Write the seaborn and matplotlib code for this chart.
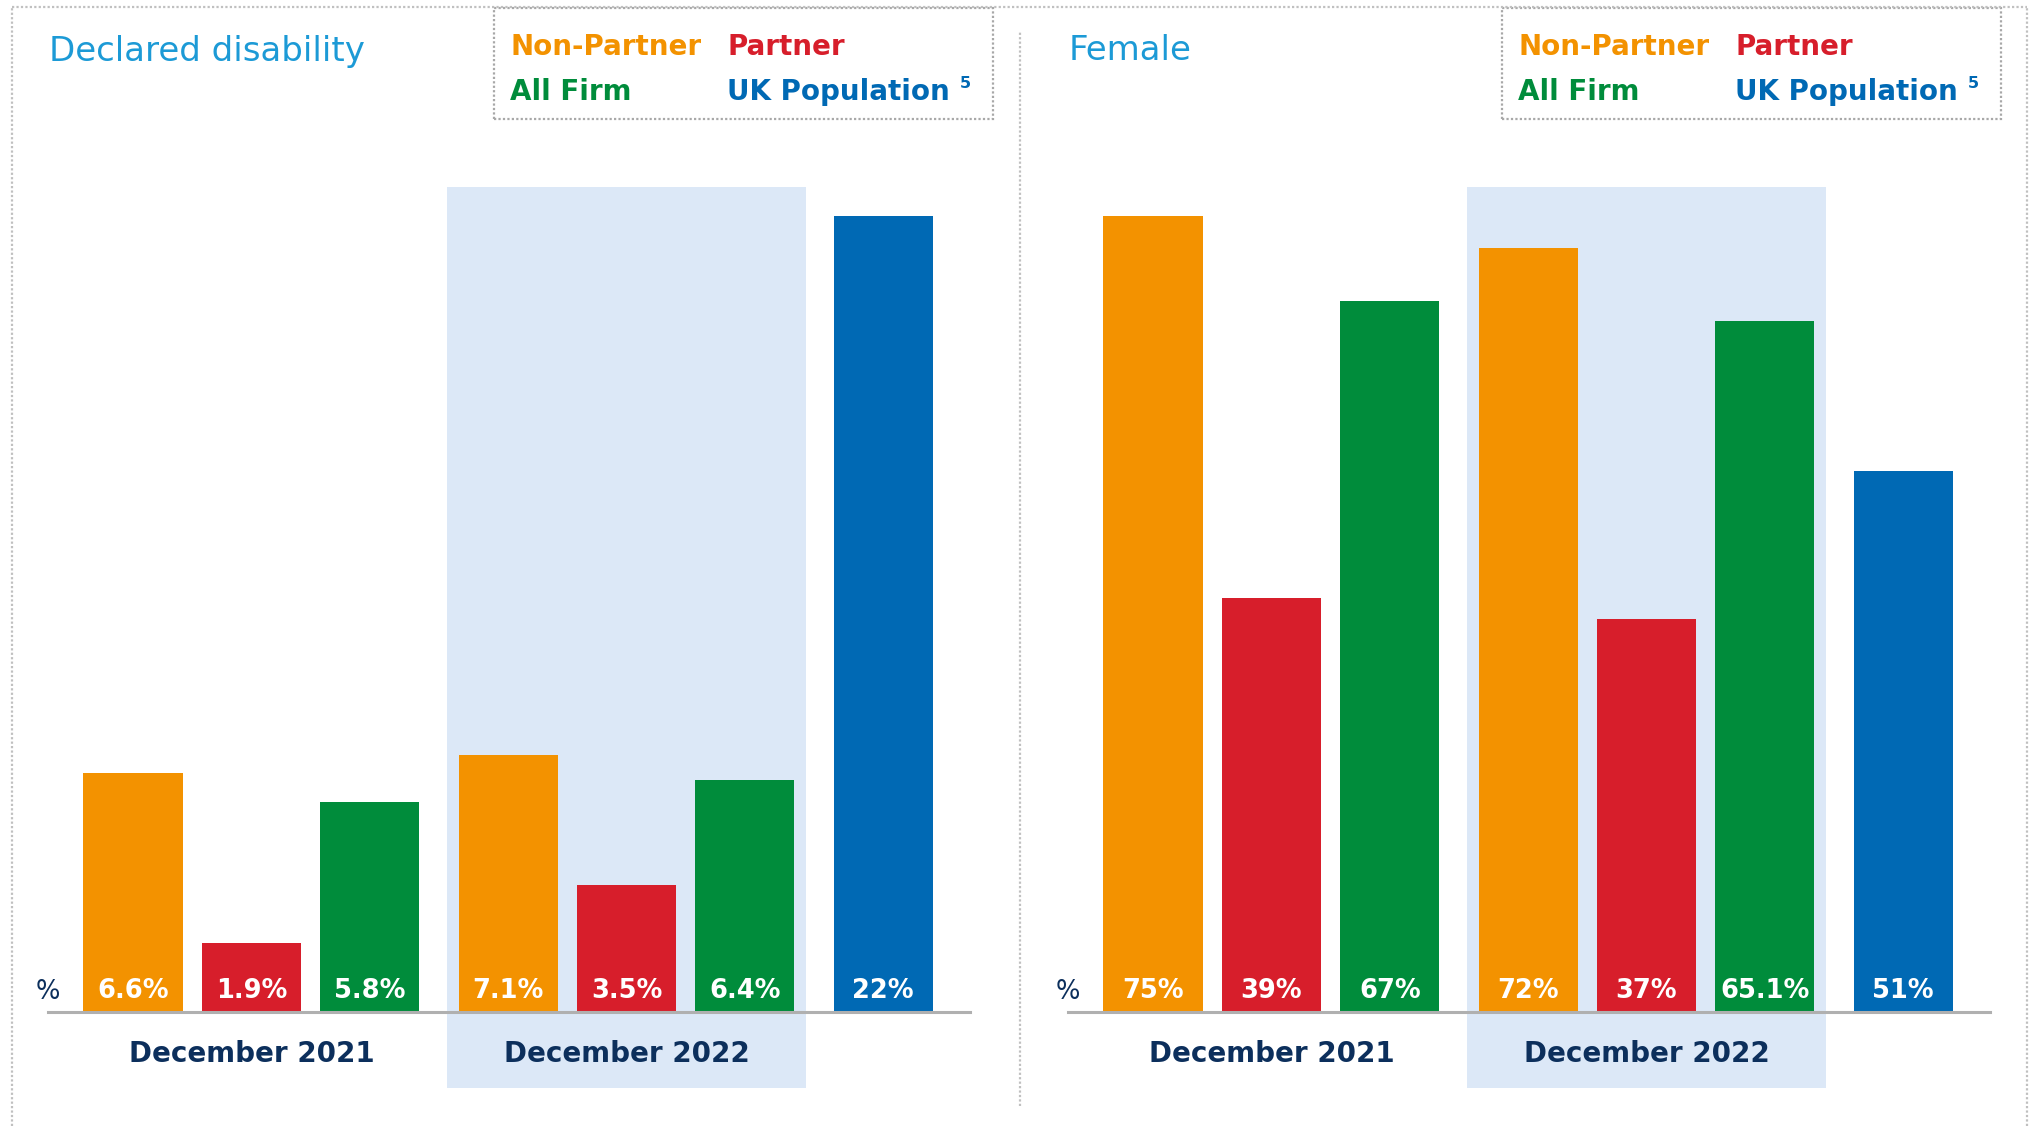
import pandas as pd
import seaborn as sns
import matplotlib.pyplot as plt
from matplotlib.patches import Rectangle
from matplotlib.lines import Line2D

# Data
series = ["Non-Partner", "Partner", "All Firm"]
uk_label = "UK Population"
periods = ["December 2021", "December 2022"]

disability_2021 = [6.6, 1.9, 5.8]
disability_2022 = [7.1, 3.5, 6.4]
disability_uk = 22

female_2021 = [75, 39, 67]
female_2022 = [72, 37, 65.1]
female_uk = 51

colors = {"Non-Partner": "#F39200", "Partner": "#D71E2B",
          "All Firm": "#008C3B", "UK Population": "#0069B4"}
NAVY = "#0C2F5C"
TITLE_BLUE = "#1C9AD6"
SHADE = "#DCE8F7"
GREY = "#B0B0B0"

GROUP_GAP = 0.17   # extra space between groups
BAR_W = 0.84
W, H = 2035, 1126


def build_frame(v2021, v2022, vuk):
    rows = []
    for i, (s, v) in enumerate(zip(series, v2021)):
        rows.append({"pos": i, "value": v, "series": s})
    start = len(series) + GROUP_GAP
    for i, (s, v) in enumerate(zip(series, v2022)):
        rows.append({"pos": start + i, "value": v, "series": s})
    uk_pos = start + len(series) + GROUP_GAP
    rows.append({"pos": uk_pos, "value": vuk, "series": uk_label})
    return pd.DataFrame(rows)


def draw_panel(fig, left_px, title, v2021, v2022, vuk):
    df = build_frame(v2021, v2022, vuk)
    ax = fig.add_axes([left_px / W, 114 / H, 922 / W, 825 / H])
    ax.set_facecolor("none")

    x0 = -0.72
    x1 = x0 + 922 / 118.3
    # shaded band behind the 2022 group
    g2 = df["pos"].iloc[3:6]
    ax.axvspan(g2.min() - 0.52, g2.max() + 0.52, ymin=-76 / 825, ymax=1,
               color=SHADE, zorder=0, clip_on=False, lw=0)

    sns.barplot(data=df, x="pos", y="value", hue="series", palette=colors,
                native_scale=True, dodge=False, width=BAR_W, errorbar=None,
                saturation=1, legend=False, ax=ax, zorder=2, linewidth=0)

    ax.set_xlim(x0, x1)
    ax.set_ylim(0, df["value"].max() / 0.965)
    ax.set_xticks([])
    ax.set_yticks([])
    ax.set_xlabel("")
    ax.set_ylabel("")
    for sp in ["top", "right", "left"]:
        ax.spines[sp].set_visible(False)
    ax.spines["bottom"].set_color(GREY)
    ax.spines["bottom"].set_linewidth(2.2)
    ax.spines["bottom"].set_zorder(3)

    # value labels inside the bars
    for _, r in df.iterrows():
        ax.annotate(f"{r['value']:g}%", xy=(r["pos"], 0), xytext=(0, 15),
                    textcoords="offset points", ha="center", va="center",
                    color="white", fontsize=18.5, fontweight="bold", zorder=4)
    ax.annotate("%", xy=(0, 0), xycoords="axes fraction", xytext=(0, 14.5),
                textcoords="offset points", ha="center", va="center",
                color=NAVY, fontsize=18.5)

    # period labels
    g1 = df["pos"].iloc[0:3]
    for lab, g in zip(periods, [g1, g2]):
        ax.annotate(lab, xy=(g.mean(), 0), xytext=(0, -30),
                    textcoords="offset points", ha="center", va="center",
                    color=NAVY, fontsize=20, fontweight="bold")

    fig.text((left_px + 1) / W, 1 - 51 / H, title, color=TITLE_BLUE,
             fontsize=24.5, ha="left", va="center")
    return ax


def draw_legend(fig, left_px):
    fig.patches.append(Rectangle((left_px / W, 1 - 119 / H), 499 / W, 111 / H,
                                 transform=fig.transFigure, fill=False,
                                 edgecolor="#A8A8A8", lw=1.6, ls=(0, (1, 1))))
    col1 = left_px + 16
    col2 = left_px + 233
    items = [(col1, 47, series[0]), (col2, 47, series[1]),
             (col1, 92, series[2]), (col2, 92, uk_label)]
    renderer = fig.canvas.get_renderer()
    for x, y, lab in items:
        t = fig.text(x / W, 1 - y / H, lab, color=colors[lab], fontsize=20,
                     fontweight="bold", ha="left", va="center")
    # footnote marker just after "UK Population"
    ext = t.get_window_extent(renderer)
    fig.text((ext.x1 + 10) / W, 1 - 84 / H, "5", color=colors[uk_label],
             fontsize=11.5, fontweight="bold", ha="left", va="center")


sns.set_theme(style="white")
plt.rcParams["font.family"] = ["DejaVu Sans"]

fig = plt.figure(figsize=(W / 100, H / 100), dpi=100)

# outer dotted frame and divider
frame_kw = dict(color="#C0C0C0", lw=1.6, ls=(0, (1, 1)), transform=fig.transFigure)
fig.lines.append(Line2D([12 / W, 12 / W], [0, 1 - 7 / H], **frame_kw))
fig.lines.append(Line2D([12 / W, 2027 / W], [1 - 7 / H, 1 - 7 / H], **frame_kw))
fig.lines.append(Line2D([2027 / W, 2027 / W], [0, 1 - 7 / H], **frame_kw))
fig.lines.append(Line2D([1020 / W, 1020 / W], [1 - 1106 / H, 1 - 32 / H], **frame_kw))

draw_panel(fig, 48, "Declared disability", disability_2021, disability_2022, disability_uk)
draw_panel(fig, 1068, "Female", female_2021, female_2022, female_uk)
draw_legend(fig, 494)
draw_legend(fig, 1502)

fig.savefig("out.png", dpi=100)
